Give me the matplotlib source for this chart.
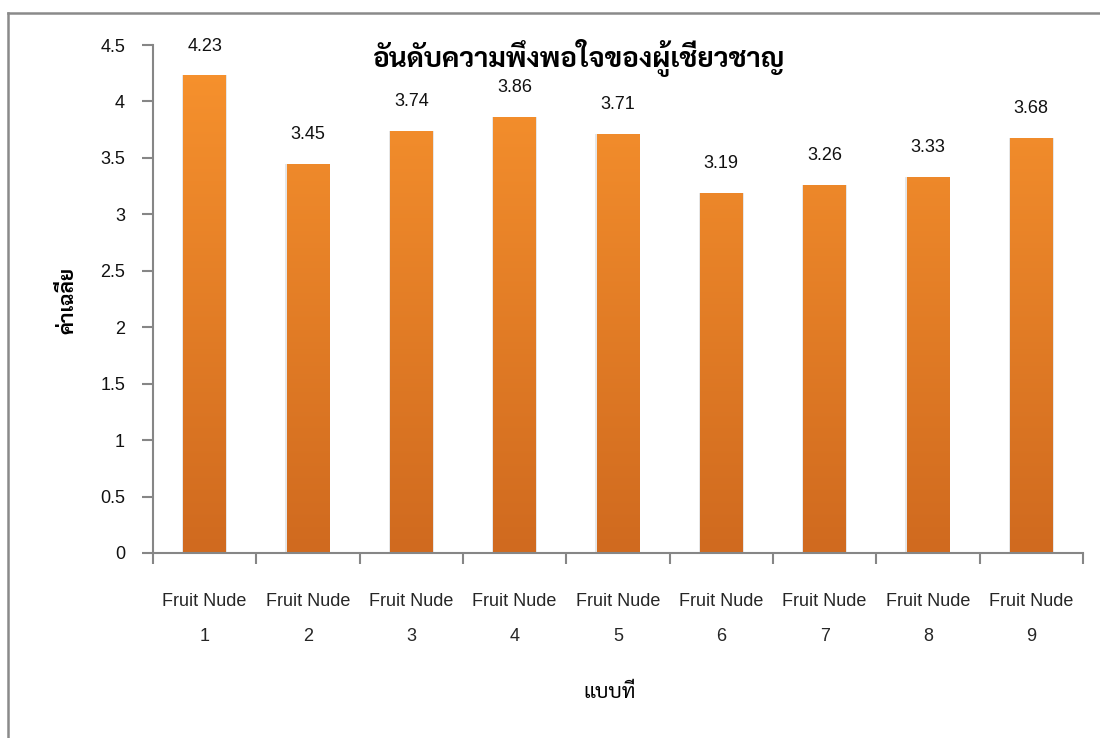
import numpy as np
import matplotlib
matplotlib.use("Agg")
import matplotlib.pyplot as plt
from matplotlib import font_manager as fm
from matplotlib.ft2font import FT2Font
from matplotlib.colors import LinearSegmentedColormap
from matplotlib.lines import Line2D

# ---- data ----
categories = ["Fruit Nude\n1", "Fruit Nude\n2", "Fruit Nude\n3", "Fruit Nude\n4", "Fruit Nude\n5",
              "Fruit Nude\n6", "Fruit Nude\n7", "Fruit Nude\n8", "Fruit Nude\n9"]
values = [4.23, 3.45, 3.74, 3.86, 3.71, 3.19, 3.26, 3.33, 3.68]
value_labels = ["4.23", "3.45", "3.74", "3.86", "3.71", "3.19", "3.26", "3.33", "3.68"]
yticks = [0, 0.5, 1, 1.5, 2, 2.5, 3, 3.5, 4, 4.5]
ytick_labels = ["0", "0.5", "1", "1.5", "2", "2.5", "3", "3.5", "4", "4.5"]
title = "อันดับความพึงพอใจของผู้เชี่ยวชาญ"
xlabel = "แบบที่"
ylabel = "ค่าเฉลี่ย"

# ---- find fonts with Thai glyphs ----
thai_names = set()
for f in fm.findSystemFonts():
    try:
        cm = FT2Font(f).get_charmap()
        if 0x0E2D in cm and 0x0E48 in cm and 0x0E0D in cm:
            thai_names.add(fm.FontProperties(fname=f).get_name())
    except Exception:
        pass
pref = ["Sarabun", "Noto Sans Thai Looped", "Loma", "Garuda", "Tlwg Typo", "Norasi", "Noto Sans Thai"]
thai_font = None
for p in pref:
    if p in thai_names:
        thai_font = p
        break
if thai_font is None and thai_names:
    thai_font = sorted(thai_names)[0]
thai_family = ([thai_font] if thai_font else []) + ["DejaVu Sans"]

plt.rcParams['font.family'] = ["Liberation Sans", "DejaVu Sans"]

fig = plt.figure(figsize=(11, 7.38), dpi=100)
ax = fig.add_axes([0.139, 0.2507, 0.8455, 0.6883])

x = np.arange(len(values))
width = 0.41
top_c = "#F8932E"
bot_c = "#D06A1F"
cmap = LinearSegmentedColormap.from_list("og", [bot_c, top_c])
grad = np.linspace(0, 1, 256).reshape(-1, 1)

# soft shadow behind bars
ax.bar(x, values, width=width + 0.025, color="#e6e6e6", edgecolor="none", zorder=1)
bars = ax.bar(x, values, width=width, color="none", edgecolor="none", zorder=2)
for b, v in zip(bars, values):
    x0 = b.get_x()
    im = ax.imshow(grad, cmap=cmap, origin="lower", aspect="auto",
                   extent=(x0, x0 + b.get_width(), 0, 4.5), zorder=2)
    im.set_clip_path(b)

for xi, v, lab in zip(x, values, value_labels):
    ax.annotate(lab, (xi, v), xytext=(0, 15), textcoords="offset points",
                ha="center", va="bottom", fontsize=13, color="#111111")

ax.set_xlim(-0.5, len(values) - 0.5)
ax.set_ylim(0, 4.5)
ax.set_yticks(yticks)
ax.set_yticklabels(ytick_labels, fontsize=13, color="#111111")
ax.tick_params(axis="y", length=8, width=1.5, color="#868686", pad=12)

ax.set_xticks(np.arange(len(values) + 1) - 0.5)
ax.set_xticklabels([])
ax.tick_params(axis="x", which="major", length=8, width=1.5, color="#868686")
ax.set_xticks(x, minor=True)
ax.set_xticklabels(categories, minor=True, fontsize=13, color="#262626", linespacing=2.4)
ax.tick_params(axis="x", which="minor", length=0, pad=29)

for s in ["top", "right"]:
    ax.spines[s].set_visible(False)
for s in ["left", "bottom"]:
    ax.spines[s].set_color("#868686")
    ax.spines[s].set_linewidth(1.5)
    ax.spines[s].set_zorder(3)

fig.text(578 / 1100, 1 - 58 / 738, title, family=thai_family, fontsize=20, fontweight="bold",
         ha="center", va="center", color="#000000")
fig.text(610 / 1100, 1 - 692 / 738, xlabel, family=thai_family, fontsize=15,
         ha="center", va="center", color="#000000")
fig.text(68 / 1100, 1 - 300 / 738, ylabel, family=thai_family, fontsize=15, fontweight="bold",
         ha="center", va="center", rotation=90, color="#000000")

# outer frame (top and left edges visible)
fig.add_artist(Line2D([8 / 1100, 8 / 1100], [0, 1 - 13 / 738], color="#8a8a8a", lw=1.8))
fig.add_artist(Line2D([8 / 1100, 1], [1 - 13 / 738, 1 - 13 / 738], color="#8a8a8a", lw=1.8))

fig.savefig("out.png", dpi=100)
